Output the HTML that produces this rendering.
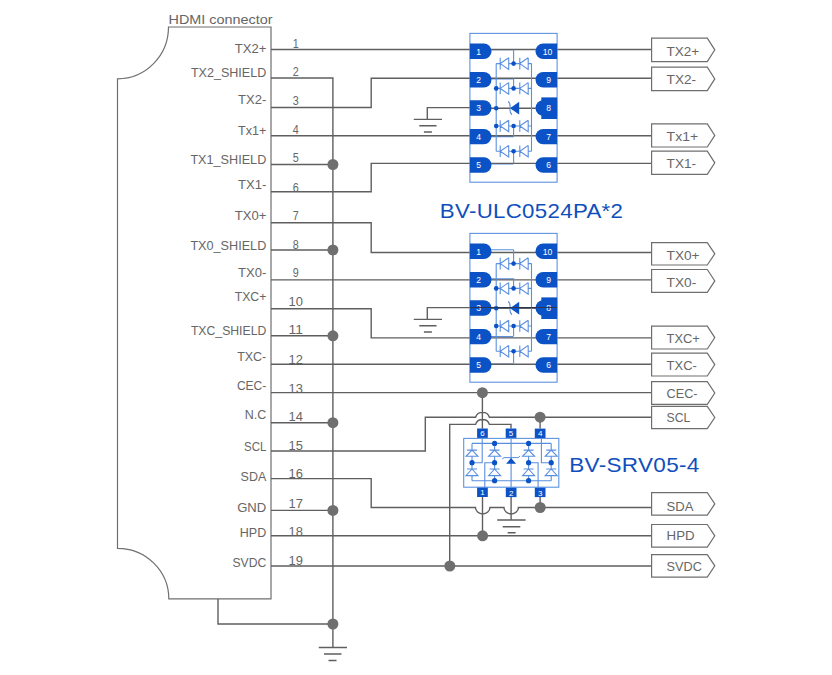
<!DOCTYPE html>
<html><head><meta charset="utf-8"><style>
html,body{margin:0;padding:0;background:#fff;}
svg{display:block;}
text{font-family:"Liberation Sans",sans-serif;}

</style></head><body>
<svg width="832" height="675" viewBox="0 0 832 675">
<rect width="832" height="675" fill="#fff"/>
<path d="M168.5,27 H271 V598.8 H168.8 A51.3,50.5 0 0 0 117.5,548.3 V78.8 A51,51.8 0 0 0 168.5,27 Z" fill="none" stroke="#6f6f6f" stroke-width="1.2"/>
<text x="168.5" y="24" font-size="13" fill="#666" textLength="104" lengthAdjust="spacingAndGlyphs">HDMI connector</text>
<text x="234.7" y="52.7" font-size="13" fill="#666" textLength="31.6" lengthAdjust="spacingAndGlyphs">TX2+</text>
<text x="292.7" y="47.7" font-size="12.3" fill="#666" textLength="6" lengthAdjust="spacingAndGlyphs">1</text>
<text x="190.9" y="76.6" font-size="13" fill="#666" textLength="75.4" lengthAdjust="spacingAndGlyphs">TX2_SHIELD</text>
<text x="292.7" y="76.3" font-size="12.3" fill="#666" textLength="6" lengthAdjust="spacingAndGlyphs">2</text>
<text x="238.1" y="104.3" font-size="13" fill="#666" textLength="28.2" lengthAdjust="spacingAndGlyphs">TX2-</text>
<text x="292.7" y="105.2" font-size="12.3" fill="#666" textLength="6" lengthAdjust="spacingAndGlyphs">3</text>
<text x="238.0" y="134.6" font-size="13" fill="#666" textLength="28.3" lengthAdjust="spacingAndGlyphs">Tx1+</text>
<text x="292.7" y="133.8" font-size="12.3" fill="#666" textLength="6" lengthAdjust="spacingAndGlyphs">4</text>
<text x="190.4" y="163.6" font-size="13" fill="#666" textLength="75.9" lengthAdjust="spacingAndGlyphs">TX1_SHIELD</text>
<text x="292.7" y="162.4" font-size="12.3" fill="#666" textLength="6" lengthAdjust="spacingAndGlyphs">5</text>
<text x="238.0" y="189.0" font-size="13" fill="#666" textLength="28.3" lengthAdjust="spacingAndGlyphs">TX1-</text>
<text x="292.7" y="191.9" font-size="12.3" fill="#666" textLength="6" lengthAdjust="spacingAndGlyphs">6</text>
<text x="234.7" y="220.2" font-size="13" fill="#666" textLength="31.6" lengthAdjust="spacingAndGlyphs">TX0+</text>
<text x="292.7" y="219.9" font-size="12.3" fill="#666" textLength="6" lengthAdjust="spacingAndGlyphs">7</text>
<text x="190.4" y="250.2" font-size="13" fill="#666" textLength="75.9" lengthAdjust="spacingAndGlyphs">TX0_SHIELD</text>
<text x="292.7" y="248.8" font-size="12.3" fill="#666" textLength="6" lengthAdjust="spacingAndGlyphs">8</text>
<text x="238.0" y="276.6" font-size="13" fill="#666" textLength="28.3" lengthAdjust="spacingAndGlyphs">TX0-</text>
<text x="292.7" y="277.4" font-size="12.3" fill="#666" textLength="6" lengthAdjust="spacingAndGlyphs">9</text>
<text x="234.7" y="301.0" font-size="13" fill="#666" textLength="31.6" lengthAdjust="spacingAndGlyphs">TXC+</text>
<text x="288.6" y="306.1" font-size="12.3" fill="#666" textLength="14.4" lengthAdjust="spacingAndGlyphs">10</text>
<text x="190.9" y="335.3" font-size="13" fill="#666" textLength="75.4" lengthAdjust="spacingAndGlyphs">TXC_SHIELD</text>
<text x="288.6" y="334.4" font-size="12.3" fill="#666" textLength="14.4" lengthAdjust="spacingAndGlyphs">11</text>
<text x="237.2" y="361.3" font-size="13" fill="#666" textLength="29.1" lengthAdjust="spacingAndGlyphs">TXC-</text>
<text x="288.6" y="363.9" font-size="12.3" fill="#666" textLength="14.4" lengthAdjust="spacingAndGlyphs">12</text>
<text x="236.9" y="389.5" font-size="13" fill="#666" textLength="29.4" lengthAdjust="spacingAndGlyphs">CEC-</text>
<text x="288.6" y="392.5" font-size="12.3" fill="#666" textLength="14.4" lengthAdjust="spacingAndGlyphs">13</text>
<text x="244.8" y="419.4" font-size="13" fill="#666" textLength="21.5" lengthAdjust="spacingAndGlyphs">N.C</text>
<text x="288.6" y="421" font-size="12.3" fill="#666" textLength="14.4" lengthAdjust="spacingAndGlyphs">14</text>
<text x="244.0" y="451.3" font-size="13" fill="#666" textLength="22.3" lengthAdjust="spacingAndGlyphs">SCL</text>
<text x="288.6" y="449.7" font-size="12.3" fill="#666" textLength="14.4" lengthAdjust="spacingAndGlyphs">15</text>
<text x="240.6" y="480.8" font-size="13" fill="#666" textLength="25.7" lengthAdjust="spacingAndGlyphs">SDA</text>
<text x="288.6" y="478.3" font-size="12.3" fill="#666" textLength="14.4" lengthAdjust="spacingAndGlyphs">16</text>
<text x="237.2" y="511.5" font-size="13" fill="#666" textLength="29.1" lengthAdjust="spacingAndGlyphs">GND</text>
<text x="288.6" y="507.7" font-size="12.3" fill="#666" textLength="14.4" lengthAdjust="spacingAndGlyphs">17</text>
<text x="239.8" y="536.8" font-size="13" fill="#666" textLength="26.5" lengthAdjust="spacingAndGlyphs">HPD</text>
<text x="288.6" y="535.8" font-size="12.3" fill="#666" textLength="14.4" lengthAdjust="spacingAndGlyphs">18</text>
<text x="232.5" y="567.1" font-size="13" fill="#666" textLength="33.8" lengthAdjust="spacingAndGlyphs">SVDC</text>
<text x="288.6" y="565.3" font-size="12.3" fill="#666" textLength="14.4" lengthAdjust="spacingAndGlyphs">19</text>
<g id="rowsA"><path d="M470,49.8 H513.6" stroke="#5a8fe0" stroke-width="1.1"/><path d="M470,78.9 H513.6" stroke="#5a8fe0" stroke-width="1.1"/><path d="M470,136.6 H513.6" stroke="#5a8fe0" stroke-width="1.1"/><path d="M470,164.0 H513.6" stroke="#5a8fe0" stroke-width="1.1"/></g><use href="#rowsA" transform="translate(0,200)"/>
<path d="M271,49.5 H651.6 M271,78.0 H332.9 V647.5 M271,107.5 H371.2 V78.3 H651.6 M271,135.7 H651.6 M271,164.5 H332.9 M271,191.8 H371.2 V163.4 H651.6 M271,222.8 H371.2 V252.5 H651.6 M271,250.0 H332.9 M271,279.9 H651.6 M271,308.8 H371.2 V337.9 H651.6 M271,335.8 H332.9 M271,364.2 H651.6 M271,392.6 H651.6 M271,422.7 H332.9 M271,451.0 H425.3 V417.2 H475.6 A7.2,6.8 0 0 1 489.4,417.2 H651.6 M271,478.6 H371.2 V507.5 H475.5 A7.2,6.5 0 0 0 489.9,507.5 H504 A7.2,6.5 0 0 0 518.4,507.5 H651.6 M271,510.4 H332.9 M271,535.8 H651.6 M271,566.0 H651.6 M218,599 V624 H332.9 M318.8,647.5 H347 M324,654 H341.5 M328.5,660.5 H336.5 M470,107.6 H427.3 V119.4 M413.8,119.4 H442 M419.3,125.7 H436.5 M423.9,132 H431.9 M470,307.6 H427.3 V319.4 M413.8,319.4 H442 M419.3,325.7 H436.5 M423.9,332 H431.9 M482.4,392.7 V428.5 M449.7,566 V424.4 H475.6 A7.2,6.8 0 0 1 489.4,424.4 H511 V428.5 M540.1,417.2 V428.6 M540.1,496.9 V507.5 M482.5,496.9 V535.8 M511.1,496.7 V520 M497.2,520 H525.6 M502.7,526.7 H520.3 M507.7,532.8 H515.6" fill="none" stroke="#5f5f5f" stroke-width="1.4"/>
<circle cx="332.9" cy="164.5" r="5.5" fill="#6f6f6f"/>
<circle cx="332.9" cy="250.0" r="5.5" fill="#6f6f6f"/>
<circle cx="332.9" cy="335.8" r="5.5" fill="#6f6f6f"/>
<circle cx="332.9" cy="422.7" r="5.5" fill="#6f6f6f"/>
<circle cx="332.9" cy="510.4" r="5.5" fill="#6f6f6f"/>
<circle cx="332.9" cy="624" r="5.5" fill="#6f6f6f"/>
<circle cx="482.4" cy="392.7" r="5.5" fill="#6f6f6f"/>
<circle cx="540.1" cy="417.2" r="5.5" fill="#6f6f6f"/>
<circle cx="540.2" cy="507.5" r="5.5" fill="#6f6f6f"/>
<circle cx="482.6" cy="535.8" r="5.5" fill="#6f6f6f"/>
<circle cx="449.8" cy="566" r="5.5" fill="#6f6f6f"/>
<path d="M651.6,38.1 H707.3 L714.8,49.85 L707.3,61.6 H651.6 Z" fill="#fff" stroke="#6f6f6f" stroke-width="1.2"/>
<text x="666.6" y="56.2" font-size="13" fill="#666" textLength="32.6" lengthAdjust="spacingAndGlyphs">TX2+</text>
<path d="M651.6,67.2 H707.3 L714.8,78.9 L707.3,90.6 H651.6 Z" fill="#fff" stroke="#6f6f6f" stroke-width="1.2"/>
<text x="666.6" y="84.4" font-size="13" fill="#666" textLength="29.5" lengthAdjust="spacingAndGlyphs">TX2-</text>
<path d="M651.6,123.8 H707.3 L714.8,135.4 L707.3,147.0 H651.6 Z" fill="#fff" stroke="#6f6f6f" stroke-width="1.2"/>
<text x="666.6" y="140.8" font-size="13" fill="#666" textLength="31.5" lengthAdjust="spacingAndGlyphs">Tx1+</text>
<path d="M651.6,151.2 H707.3 L714.8,162.8 L707.3,174.4 H651.6 Z" fill="#fff" stroke="#6f6f6f" stroke-width="1.2"/>
<text x="666.6" y="168.4" font-size="13" fill="#666" textLength="29.4" lengthAdjust="spacingAndGlyphs">TX1-</text>
<path d="M651.6,242.6 H707.3 L714.8,253.8 L707.3,265.0 H651.6 Z" fill="#fff" stroke="#6f6f6f" stroke-width="1.2"/>
<text x="666.6" y="260.4" font-size="13" fill="#666" textLength="32.9" lengthAdjust="spacingAndGlyphs">TX0+</text>
<path d="M651.6,269.5 H707.3 L714.8,280.95 L707.3,292.4 H651.6 Z" fill="#fff" stroke="#6f6f6f" stroke-width="1.2"/>
<text x="666.6" y="287.4" font-size="13" fill="#666" textLength="29.6" lengthAdjust="spacingAndGlyphs">TX0-</text>
<path d="M651.6,326.2 H707.3 L714.8,337.6 L707.3,349.0 H651.6 Z" fill="#fff" stroke="#6f6f6f" stroke-width="1.2"/>
<text x="666.6" y="342.8" font-size="13" fill="#666" textLength="33.3" lengthAdjust="spacingAndGlyphs">TXC+</text>
<path d="M651.6,353.1 H707.3 L714.8,364.55 L707.3,376.0 H651.6 Z" fill="#fff" stroke="#6f6f6f" stroke-width="1.2"/>
<text x="666.6" y="370.2" font-size="13" fill="#666" textLength="30.2" lengthAdjust="spacingAndGlyphs">TXC-</text>
<path d="M651.6,381.6 H707.3 L714.8,393.0 L707.3,404.4 H651.6 Z" fill="#fff" stroke="#6f6f6f" stroke-width="1.2"/>
<text x="666.6" y="397.6" font-size="13" fill="#666" textLength="31.0" lengthAdjust="spacingAndGlyphs">CEC-</text>
<path d="M651.6,406.3 H707.3 L714.8,417.5 L707.3,428.7 H651.6 Z" fill="#fff" stroke="#6f6f6f" stroke-width="1.2"/>
<text x="666.6" y="422.0" font-size="13" fill="#666" textLength="23.7" lengthAdjust="spacingAndGlyphs">SCL</text>
<path d="M651.6,492.6 H707.3 L714.8,503.90000000000003 L707.3,515.2 H651.6 Z" fill="#fff" stroke="#6f6f6f" stroke-width="1.2"/>
<text x="666.6" y="510.6" font-size="13" fill="#666" textLength="26.9" lengthAdjust="spacingAndGlyphs">SDA</text>
<path d="M651.6,524.5 H707.3 L714.8,535.85 L707.3,547.2 H651.6 Z" fill="#fff" stroke="#6f6f6f" stroke-width="1.2"/>
<text x="666.6" y="539.8" font-size="13" fill="#666" textLength="28.0" lengthAdjust="spacingAndGlyphs">HPD</text>
<path d="M651.6,554.6 H707.3 L714.8,565.85 L707.3,577.1 H651.6 Z" fill="#fff" stroke="#6f6f6f" stroke-width="1.2"/>
<text x="666.6" y="570.5" font-size="13" fill="#666" textLength="35.2" lengthAdjust="spacingAndGlyphs">SVDC</text>
<g id="chipA"><path d="M470,108.2 H557" fill="none" stroke="#5f5f5f" stroke-width="1.4"/><path d="M513.6,49.8 V63.6 M496.2,151.2 V63.6 M531.5,63.6 V151.2 M496.2,63.6 H500.2 M508.7,63.6 H519.8 M528.2,63.6 H531.5 M496.2,88.4 H500.2 M508.7,88.4 H519.8 M528.2,88.4 H531.5 M496.2,126.0 H500.2 M508.7,126.0 H519.8 M528.2,126.0 H531.5 M496.2,151.2 H500.2 M508.7,151.2 H519.8 M528.2,151.2 H531.5 M513.6,88.4 V78.3 M513.6,126 V136.0 M513.6,151.2 V163.4 M500.2,57.800000000000004 V69.4 M508.7,57.800000000000004 V69.4 L500.2,63.6 L508.7,57.800000000000004 M519.8,57.800000000000004 V69.4 M528.2,57.800000000000004 V69.4 L519.8,63.6 L528.2,57.800000000000004 M500.2,82.60000000000001 V94.2 M508.7,82.60000000000001 V94.2 L500.2,88.4 L508.7,82.60000000000001 M519.8,82.60000000000001 V94.2 M528.2,82.60000000000001 V94.2 L519.8,88.4 L528.2,82.60000000000001 M500.2,120.2 V131.8 M508.7,120.2 V131.8 L500.2,126.0 L508.7,120.2 M519.8,120.2 V131.8 M528.2,120.2 V131.8 L519.8,126.0 L528.2,120.2 M500.2,145.39999999999998 V157.0 M508.7,145.39999999999998 V157.0 L500.2,151.2 L508.7,145.39999999999998 M519.8,145.39999999999998 V157.0 M528.2,145.39999999999998 V157.0 L519.8,151.2 L528.2,145.39999999999998" fill="none" stroke="#5a8fe0" stroke-width="1.1"/><circle cx="513.6" cy="63.6" r="2.3" fill="#0b52c6"/><circle cx="496.2" cy="88.4" r="2.3" fill="#0b52c6"/><circle cx="513.6" cy="88.4" r="2.3" fill="#0b52c6"/><circle cx="496.2" cy="108.2" r="2.3" fill="#0b52c6"/><circle cx="496.2" cy="126.0" r="2.3" fill="#0b52c6"/><circle cx="513.6" cy="126.0" r="2.3" fill="#0b52c6"/><circle cx="513.6" cy="151.2" r="2.3" fill="#0b52c6"/><path d="M510,108.2 L519.2,101.8 V114.6 Z" fill="#0b52c6"/><path d="M508,101.6 Q510.5,103 510,108 Q509.5,113 512,114.8" fill="none" stroke="#5a8fe0" stroke-width="1.1"/><rect x="469.9" y="33.4" width="87.2" height="148.8" fill="none" stroke="#5d93e0" stroke-width="1.1"/><path d="M469.9,43.599999999999994 H483.8 A7.7,7.7 0 0 1 483.8,59.0 H469.9 Z" fill="#0b52c6"/><text x="478.6" y="54.5" font-size="8.6" fill="#fff" text-anchor="middle">1</text><path d="M469.9,72.0 H483.8 A7.7,7.7 0 0 1 483.8,87.4 H469.9 Z" fill="#0b52c6"/><text x="478.6" y="82.9" font-size="8.6" fill="#fff" text-anchor="middle">2</text><path d="M469.9,100.3 H483.8 A7.7,7.7 0 0 1 483.8,115.7 H469.9 Z" fill="#0b52c6"/><text x="478.6" y="111.2" font-size="8.6" fill="#fff" text-anchor="middle">3</text><path d="M469.9,128.9 H483.8 A7.7,7.7 0 0 1 483.8,144.29999999999998 H469.9 Z" fill="#0b52c6"/><text x="478.6" y="139.79999999999998" font-size="8.6" fill="#fff" text-anchor="middle">4</text><path d="M469.9,157.3 H483.8 A7.7,7.7 0 0 1 483.8,172.7 H469.9 Z" fill="#0b52c6"/><text x="478.6" y="168.2" font-size="8.6" fill="#fff" text-anchor="middle">5</text><path d="M557.1,43.599999999999994 H543.2 A7.7,7.7 0 0 0 543.2,59.0 H557.1 Z" fill="#0b52c6"/><text x="547.6" y="54.5" font-size="8.6" fill="#fff" text-anchor="middle">10</text><path d="M557.1,72.0 H543.2 A7.7,7.7 0 0 0 543.2,87.4 H557.1 Z" fill="#0b52c6"/><text x="548.6" y="82.9" font-size="8.6" fill="#fff" text-anchor="middle">9</text><rect x="541.3" y="97.4" width="15.8" height="21.6" fill="#0b52c6"/><path d="M557.1,100.3 H543.2 A7.7,7.7 0 0 0 543.2,115.7 H557.1 Z" fill="#0b52c6"/><text x="548.6" y="111.2" font-size="8.6" fill="#fff" text-anchor="middle">8</text><path d="M557.1,128.9 H543.2 A7.7,7.7 0 0 0 543.2,144.29999999999998 H557.1 Z" fill="#0b52c6"/><text x="548.6" y="139.79999999999998" font-size="8.6" fill="#fff" text-anchor="middle">7</text><path d="M557.1,157.3 H543.2 A7.7,7.7 0 0 0 543.2,172.7 H557.1 Z" fill="#0b52c6"/><text x="548.6" y="168.2" font-size="8.6" fill="#fff" text-anchor="middle">6</text></g>
<use href="#chipA" transform="translate(0,200)"/>
<path d="M470,307.5 H557" fill="none" stroke="#2a3550" stroke-width="1.2"/>
<text x="439.8" y="218.2" font-size="21" fill="#0f4fbd" textLength="183.5" lengthAdjust="spacingAndGlyphs" letter-spacing="0.3">BV-ULC0524PA*2</text>
<path d="M472.0,443.4 H551.2 M472.0,480.7 H551.2 M472.0,443.4 V480.7 M494.6,443.4 V480.7 M528.6,443.4 V480.7 M551.2,443.4 V480.7 M482.2,437.9 V462.7 H472.0 M484.8,487.2 V462.7 H494.6 M538.1,487.2 V462.7 H528.6 M541.4,437.9 V462.7 H551.2 M511.1,437.9 V487.2" fill="none" stroke="#5a8fe0" stroke-width="1.1"/><path d="M467.0,450.1 H477.0 M472.0,450.1 L478.0,456.3 H466.0 Z M467.0,469.0 H477.0 M472.0,469.0 L478.0,475.6 H466.0 Z M489.6,450.1 H499.6 M494.6,450.1 L500.6,456.3 H488.6 Z M489.6,469.0 H499.6 M494.6,469.0 L500.6,475.6 H488.6 Z M523.6,450.1 H533.6 M528.6,450.1 L534.6,456.3 H522.6 Z M523.6,469.0 H533.6 M528.6,469.0 L534.6,475.6 H522.6 Z M546.2,450.1 H556.2 M551.2,450.1 L557.2,456.3 H545.2 Z M546.2,469.0 H556.2 M551.2,469.0 L557.2,475.6 H545.2 Z" fill="#fff" stroke="#5a8fe0" stroke-width="1.1"/><path d="M511.1,458 L516.1,463.8 H506.1 Z" fill="#0b52c6"/><path d="M502.1,459 L504.1,457.6 H518.1 L520.1,456.2" fill="none" stroke="#5a8fe0" stroke-width="1"/><circle cx="494.6" cy="443.4" r="2.6" fill="#0b52c6"/><circle cx="528.6" cy="443.4" r="2.6" fill="#0b52c6"/><circle cx="472.0" cy="462.7" r="2.6" fill="#0b52c6"/><circle cx="494.6" cy="462.7" r="2.6" fill="#0b52c6"/><circle cx="528.6" cy="462.7" r="2.6" fill="#0b52c6"/><circle cx="551.2" cy="462.7" r="2.6" fill="#0b52c6"/><circle cx="494.6" cy="480.7" r="2.6" fill="#0b52c6"/><circle cx="528.6" cy="480.7" r="2.6" fill="#0b52c6"/><rect x="463.7" y="438.4" width="95.1" height="48.8" fill="none" stroke="#5d93e0" stroke-width="1.1"/><rect x="477.1" y="428.5" width="10.7" height="9.4" fill="#0b52c6"/><text x="482.45000000000005" y="436.3" font-size="8" fill="#fff" text-anchor="middle">6</text><rect x="505.7" y="428.5" width="10.7" height="9.4" fill="#0b52c6"/><text x="511.05" y="436.3" font-size="8" fill="#fff" text-anchor="middle">5</text><rect x="534.8" y="428.6" width="10.7" height="9.4" fill="#0b52c6"/><text x="540.15" y="436.40000000000003" font-size="8" fill="#fff" text-anchor="middle">4</text><rect x="477.1" y="487.6" width="10.7" height="9.4" fill="#0b52c6"/><text x="482.45000000000005" y="495.40000000000003" font-size="8" fill="#fff" text-anchor="middle">1</text><rect x="505.8" y="487.7" width="10.7" height="9.4" fill="#0b52c6"/><text x="511.15000000000003" y="495.5" font-size="8" fill="#fff" text-anchor="middle">2</text><rect x="534.8" y="487.7" width="10.7" height="9.4" fill="#0b52c6"/><text x="540.15" y="495.5" font-size="8" fill="#fff" text-anchor="middle">3</text>
<text x="569.2" y="472.2" font-size="21" fill="#0f4fbd" textLength="130.5" lengthAdjust="spacingAndGlyphs" letter-spacing="0.3">BV-SRV05-4</text>
</svg>
</body></html>
